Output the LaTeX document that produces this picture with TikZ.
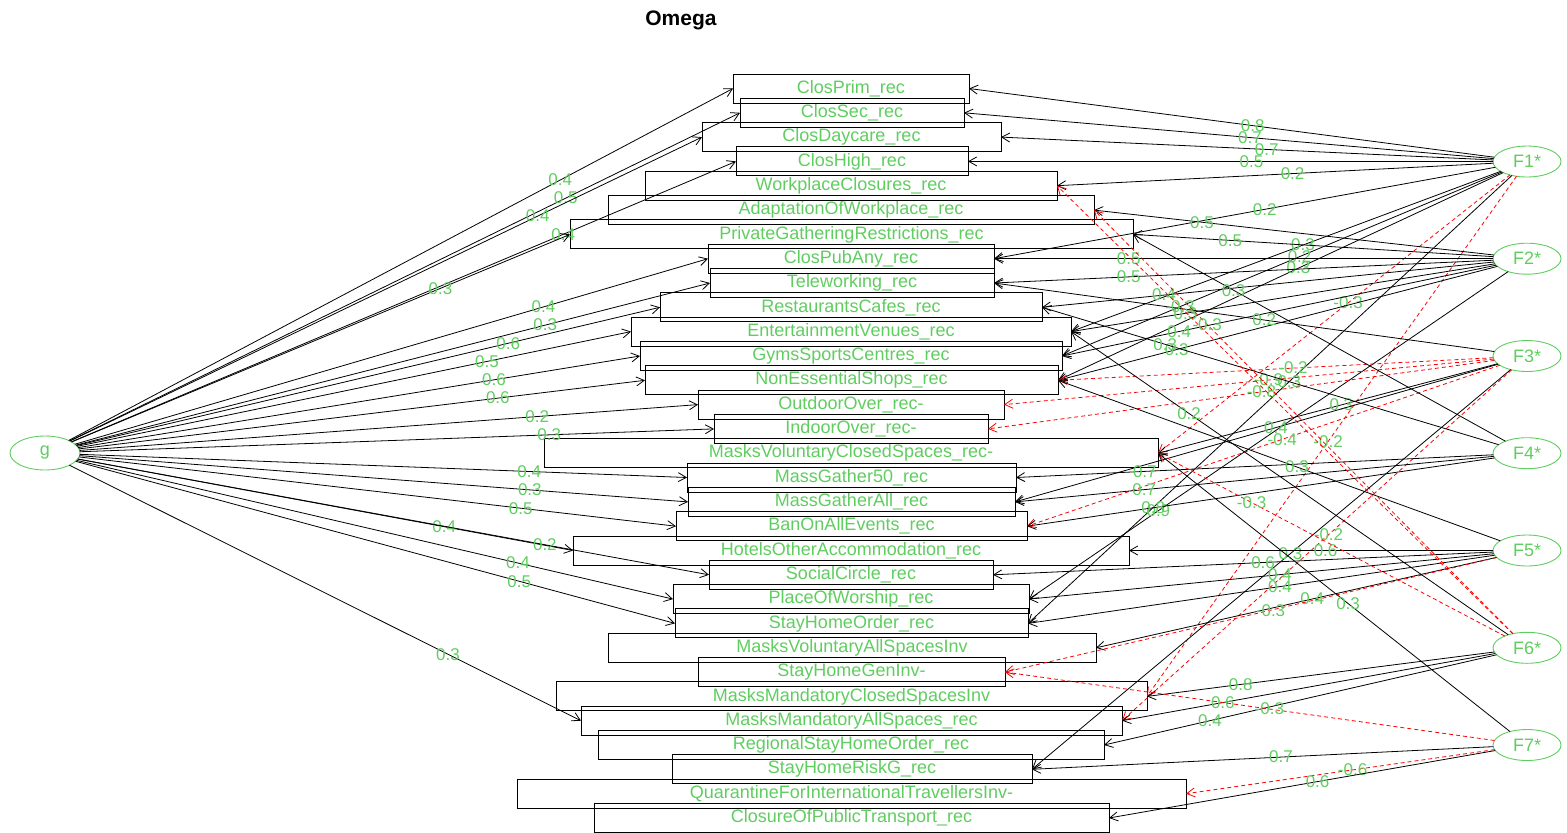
\documentclass[tikz,border=0pt]{standalone}
\usepackage{fontspec}
\setmainfont{Liberation Sans}
\usepackage{tikz}
\usetikzlibrary{shapes.geometric,arrows.meta}
\definecolor{omegagreen}{RGB}{95,205,95}
\definecolor{omegared}{RGB}{255,0,0}
\tikzset{
    omega item/.style={
        rectangle,
        draw=black,
        line width=0.9pt,
        text=omegagreen,
        font=\fontsize{18}{18}\selectfont,
        minimum height=29pt,
        inner sep=0pt,
        outer sep=0pt,
    },
    omega factor/.style={
        ellipse,
        draw=omegagreen,
        line width=0.9pt,
        text=omegagreen,
        font=\fontsize{18}{18}\selectfont,
        minimum width=68pt,
        minimum height=31pt,
        inner sep=0pt,
        outer sep=0pt,
    },
    omega load/.style={text=omegagreen, font=\fontsize{17}{17}\selectfont, inner sep=0pt},
    omega arrow/.style={-{Straight Barb[length=8pt,width=9pt]}, line width=0.8pt, draw=black},
    omega dashed/.style={omega arrow, draw=omegared, dash pattern=on 4pt off 3pt},
    wide/.style={minimum width=#1}
}

\begin{document}
\begin{tikzpicture}[x=1pt,y=-1pt]
\useasboundingbox (0,0) rectangle (1567,833);

\node[font=\bfseries\fontsize{21}{21}\selectfont] (title) at (681,20) {Omega};

%Items, all centred on one column
\node[omega item, wide=236pt] (clos-prim) at (851,88.5) {ClosPrim\_rec};
\node[omega item, wide=224pt] (clos-sec) at (852,112.8) {ClosSec\_rec};
\node[omega item, wide=299pt] (clos-daycare) at (851.5,137.1) {ClosDaycare\_rec};
\node[omega item, wide=232pt] (clos-high) at (852,161.4) {ClosHigh\_rec};
\node[omega item, wide=412pt] (workplace) at (851,185.7) {WorkplaceClosures\_rec};
\node[omega item, wide=486pt] (adaptation) at (851,210.1) {AdaptationOfWorkplace\_rec};
\node[omega item, wide=563pt] (private-gathering) at (851.5,234.4) {PrivateGatheringRestrictions\_rec};
\node[omega item, wide=286pt] (clos-pub-any) at (851,258.7) {ClosPubAny\_rec};
\node[omega item, wide=284pt] (teleworking) at (852,283) {Teleworking\_rec};
\node[omega item, wide=382pt] (restaurants) at (851,307.3) {RestaurantsCafes\_rec};
\node[omega item, wide=440pt] (entertainment) at (851,331.6) {EntertainmentVenues\_rec};
\node[omega item, wide=422pt] (gyms) at (851,356) {GymsSportsCentres\_rec};
\node[omega item, wide=413pt] (shops) at (851.5,380.3) {NonEssentialShops\_rec};
\node[omega item, wide=306pt] (outdoor) at (851,404.6) {OutdoorOver\_rec-};
\node[omega item, wide=274pt] (indoor) at (851,428.9) {IndoorOver\_rec-};
\node[omega item, wide=614pt] (masks-vol-closed) at (851,453.2) {MasksVoluntaryClosedSpaces\_rec-};
\node[omega item, wide=329pt] (mass-gather-50) at (851.5,477.5) {MassGather50\_rec};
\node[omega item, wide=327pt] (mass-gather-all) at (851.5,501.9) {MassGatherAll\_rec};
\node[omega item, wide=351pt] (ban-events) at (851.5,526.2) {BanOnAllEvents\_rec};
\node[omega item, wide=556pt] (hotels) at (851,550.5) {HotelsOtherAccommodation\_rec};
\node[omega item, wide=284pt] (social-circle) at (851,574.8) {SocialCircle\_rec};
\node[omega item, wide=356pt] (worship) at (851,599.1) {PlaceOfWorship\_rec};
\node[omega item, wide=353pt] (stay-home-order) at (851.5,623.4) {StayHomeOrder\_rec};
\node[omega item, wide=488pt] (masks-vol-all) at (852,647.8) {MasksVoluntaryAllSpacesInv};
\node[omega item, wide=307pt] (stay-home-gen) at (851.5,672.1) {StayHomeGenInv-};
\node[omega item, wide=591pt] (masks-mand-closed) at (851.5,696.4) {MasksMandatoryClosedSpacesInv};
\node[omega item, wide=541pt] (masks-mand-all) at (851.5,720.7) {MasksMandatoryAllSpaces\_rec};
\node[omega item, wide=506pt] (regional) at (851,745) {RegionalStayHomeOrder\_rec};
\node[omega item, wide=360pt] (risk-group) at (852,769.3) {StayHomeRiskG\_rec};
\node[omega item, wide=669pt] (quarantine) at (851.5,793.7) {QuarantineForInternationalTravellersInv-};
\node[omega item, wide=515pt] (public-transport) at (851.5,818) {ClosureOfPublicTransport\_rec};

%General and group factors
\node[omega factor, minimum width=70pt, minimum height=34pt] (g) at (45,453) {g};
\node[omega factor] (f1) at (1527,161.5) {F1*};
\node[omega factor] (f2) at (1527,258.7) {F2*};
\node[omega factor] (f3) at (1527,356) {F3*};
\node[omega factor] (f4) at (1527,453.2) {F4*};
\node[omega factor] (f5) at (1527,550.5) {F5*};
\node[omega factor] (f6) at (1527,647.8) {F6*};
\node[omega factor] (f7) at (1527,745) {F7*};

%g loadings
\draw[omega arrow] (g) -- node[omega load,pos=0.74] {0.4} (clos-prim.west);
\draw[omega arrow] (g) -- node[omega load,pos=0.74] {0.5} (clos-sec.west);
\draw[omega arrow] (g) -- node[omega load,pos=0.74] {0.4} (clos-daycare.west);
\draw[omega arrow] (g) -- node[omega load,pos=0.74] {0.4} (clos-high.west);
\draw[omega arrow] (g) -- node[omega load,pos=0.74] {0.3} (private-gathering.west);
\draw[omega arrow] (g) -- node[omega load,pos=0.74] {0.4} (clos-pub-any.west);
\draw[omega arrow] (g) -- node[omega load,pos=0.74] {0.3} (teleworking.west);
\draw[omega arrow] (g) -- node[omega load,pos=0.74] {0.6} (restaurants.west);
\draw[omega arrow] (g) -- node[omega load,pos=0.74] {0.5} (entertainment.west);
\draw[omega arrow] (g) -- node[omega load,pos=0.74] {0.6} (gyms.west);
\draw[omega arrow] (g) -- node[omega load,pos=0.74] {0.6} (shops.west);
\draw[omega arrow] (g) -- node[omega load,pos=0.74] {0.2} (outdoor.west);
\draw[omega arrow] (g) -- node[omega load,pos=0.74] {0.3} (indoor.west);
\draw[omega arrow] (g) -- node[omega load,pos=0.74] {0.4} (mass-gather-50.west);
\draw[omega arrow] (g) -- node[omega load,pos=0.74] {0.3} (mass-gather-all.west);
\draw[omega arrow] (g) -- node[omega load,pos=0.74] {0.5} (ban-events.west);
\draw[omega arrow] (g) -- node[omega load,pos=0.74] {0.4} (hotels.west);
\draw[omega arrow] (g) -- node[omega load,pos=0.74] {0.2} (social-circle.west);
\draw[omega arrow] (g) -- node[omega load,pos=0.74] {0.4} (worship.west);
\draw[omega arrow] (g) -- node[omega load,pos=0.74] {0.5} (stay-home-order.west);
\draw[omega arrow] (g) -- node[omega load,pos=0.74] {0.3} (masks-mand-all.west);

%F1 loadings
\draw[omega arrow] (f1) -- node[omega load,pos=0.46] {0.8} (clos-prim.east);
\draw[omega arrow] (f1) -- node[omega load,pos=0.46] {0.7} (clos-sec.east);
\draw[omega arrow] (f1) -- node[omega load,pos=0.46] {0.7} (clos-daycare.east);
\draw[omega arrow] (f1) -- node[omega load,pos=0.46] {0.5} (clos-high.east);
\draw[omega arrow] (f1) -- node[omega load,pos=0.46] {0.2} (workplace.east);
\draw[omega arrow] (f1) -- node[omega load,pos=0.46] {0.2} (clos-pub-any.east);
\draw[omega arrow] (f1) -- node[omega load,pos=0.46] {0.3} (entertainment.east);
\draw[omega arrow] (f1) -- node[omega load,pos=0.46] {0.2} (gyms.east);
\draw[omega arrow] (f1) -- node[omega load,pos=0.46] {0.3} (shops.east);
\draw[omega dashed] (f1) -- node[omega load,pos=0.46] {-0.3} (masks-vol-closed.east);
\draw[omega arrow] (f1) -- node[omega load,pos=0.46] {0.3} (stay-home-order.east);
\draw[omega dashed] (f1) -- node[omega load,pos=0.51] {-0.2} (masks-mand-closed.east);

%F2 loadings
\draw[omega arrow] (f2) -- node[omega load,pos=0.73] {0.5} (adaptation.east);
\draw[omega arrow] (f2) -- node[omega load,pos=0.73] {0.5} (private-gathering.east);
\draw[omega arrow] (f2) -- node[omega load,pos=0.73] {0.5} (clos-pub-any.east);
\draw[omega arrow] (f2) -- node[omega load,pos=0.73] {0.5} (teleworking.east);
\draw[omega arrow] (f2) -- node[omega load,pos=0.73] {0.4} (restaurants.east);
\draw[omega arrow] (f2) -- node[omega load,pos=0.73] {0.3} (entertainment.east);
\draw[omega arrow] (f2) -- node[omega load,pos=0.73] {0.4} (gyms.east);
\draw[omega arrow] (f2) -- node[omega load,pos=0.73] {0.3} (shops.east);
\draw[omega arrow] (f2) -- node[omega load,pos=0.73] {0.9} (worship.east);

%F3 loadings
\draw[omega arrow] (f3) -- node[omega load,pos=0.46] {0.2} (teleworking.east);
\draw[omega dashed] (f3) -- node[omega load,pos=0.46] {-0.2} (shops.east);
\draw[omega dashed] (f3) -- node[omega load,pos=0.46] {-0.9} (outdoor.east);
\draw[omega dashed] (f3) -- node[omega load,pos=0.46] {-0.8} (indoor.east);
\draw[omega arrow] (f3) -- node[omega load,pos=0.46] {0.3} (masks-vol-closed.east);
\draw[omega arrow] (f3) -- node[omega load,pos=0.46] {0.4} (mass-gather-all.east);
\draw[omega dashed] (f3) -- node[omega load,pos=0.46] {-0.4} (ban-events.east);
\draw[omega arrow] (f3) -- node[omega load,pos=0.46] {0.3} (risk-group.east);
\draw[omega dashed] (f3) -- node[omega load,pos=0.47] {-0.2} (masks-mand-all.east);

%F4 loadings
\draw[omega arrow] (f4) -- node[omega load,pos=0.73] {0.3} (private-gathering.east);
\draw[omega arrow] (f4) -- node[omega load,pos=0.73] {0.3} (restaurants.east);
\draw[omega arrow] (f4) -- node[omega load,pos=0.73] {0.7} (mass-gather-50.east);
\draw[omega arrow] (f4) -- node[omega load,pos=0.73] {0.7} (mass-gather-all.east);
\draw[omega arrow] (f4) -- node[omega load,pos=0.73] {0.8} (ban-events.east);

%F5 loadings
\draw[omega arrow] (f5) -- node[omega load,pos=0.46] {0.3} (shops.east);
\draw[omega arrow] (f5) -- node[omega load,pos=0.46] {0.6} (hotels.east);
\draw[omega arrow] (f5) -- node[omega load,pos=0.46] {0.6} (social-circle.east);
\draw[omega arrow] (f5) -- node[omega load,pos=0.46] {0.4} (worship.east);
\draw[omega arrow] (f5) -- node[omega load,pos=0.46] {0.4} (stay-home-order.east);
\draw[omega arrow] (f5) -- node[omega load,pos=0.46] {0.4} (masks-vol-all.east);
\draw[omega dashed] (f5) -- node[omega load,pos=0.46] {-0.3} (stay-home-gen.east);

%F6 loadings
\draw[omega dashed] (f6) -- node[omega load,pos=0.73] {-0.3} (workplace.east);
\draw[omega dashed] (f6) -- node[omega load,pos=0.73] {-0.3} (adaptation.east);
\draw[omega arrow] (f6) -- node[omega load,pos=0.73] {0.2} (entertainment.east);
\draw[omega dashed] (f6) -- node[omega load,pos=0.73] {-0.3} (masks-vol-closed.east);
\draw[omega arrow] (f6) -- node[omega load,pos=0.73] {0.8} (masks-mand-closed.east);
\draw[omega arrow] (f6) -- node[omega load,pos=0.73] {0.6} (masks-mand-all.east);
\draw[omega arrow] (f6) -- node[omega load,pos=0.73] {0.4} (regional.east);

%F7 loadings
\draw[omega arrow] (f7) -- node[omega load,pos=0.46] {0.3} (masks-vol-closed.east);
\draw[omega dashed] (f7) -- node[omega load,pos=0.46] {-0.3} (stay-home-gen.east);
\draw[omega arrow] (f7) -- node[omega load,pos=0.46] {0.7} (risk-group.east);
\draw[omega dashed] (f7) -- node[omega load,pos=0.46] {-0.6} (quarantine.east);
\draw[omega arrow] (f7) -- node[omega load,pos=0.46] {0.6} (public-transport.east);

\end{tikzpicture}
\end{document}
